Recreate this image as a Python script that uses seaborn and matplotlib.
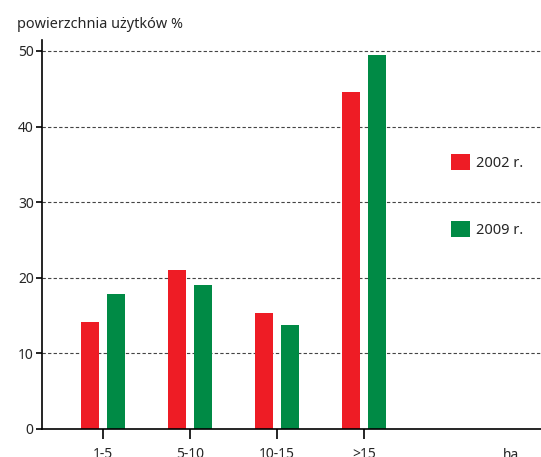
import pandas as pd
import seaborn as sns
import matplotlib.pyplot as plt
from matplotlib.patches import Patch

categories = ["1-5", "5-10", "10-15", ">15"]
years = ["2002 r.", "2009 r."]
values_2002 = [14.1, 21.0, 15.3, 44.6]
values_2009 = [17.8, 19.0, 13.7, 49.4]
yticks = [0, 10, 20, 30, 40, 50]
colors = ["#ee1c25", "#008a45"]

df = pd.DataFrame({
    "klasa": categories * 2,
    "rok": [years[0]] * 4 + [years[1]] * 4,
    "udzial": values_2002 + values_2009,
})

sns.set_theme(style="white")
plt.rcParams["font.family"] = ["Noto Sans", "DejaVu Sans"]

fig = plt.figure(figsize=(5.41, 4.57), dpi=100)
ax = fig.add_axes([42 / 541, 1 - 429 / 457, 1 - 42 / 541, (429 - 40) / 457])

sns.barplot(data=df, x="klasa", y="udzial", hue="rok", palette=colors,
            width=0.6, gap=0.3, saturation=1, linewidth=0, legend=False, ax=ax)

ax.set_ylim(0, 51.45)
ax.set_xlim(-0.70, 5.03)
ax.set_yticks(yticks)
ax.set_xlabel("")
ax.set_ylabel("")

for y in yticks[1:]:
    ax.axhline(y, color="#444444", lw=0.8, ls=(0, (3, 2)), zorder=0)

for s in ["top", "right"]:
    ax.spines[s].set_visible(False)
for s in ["left", "bottom"]:
    ax.spines[s].set_color("black")
    ax.spines[s].set_linewidth(1.2)

ax.tick_params(axis="x", direction="out", length=7, width=1.2, color="black",
               pad=6, labelsize=10, bottom=True)
ax.tick_params(axis="y", direction="out", length=4, width=1.2, color="black",
               pad=2, labelsize=10, left=True)

handles = [Patch(facecolor=c, edgecolor="none") for c in colors]
ax.legend(handles, years, loc="upper left", bbox_to_anchor=(0.807, 0.722),
          frameon=False, fontsize=10.5, handlelength=1.35, handleheight=1.35,
          handletextpad=0.4, labelspacing=3.4, borderaxespad=0)

fig.text(17 / 541, 1 - 28 / 457, "powierzchnia użytków %", fontsize=10.4,
         ha="left", va="baseline")
fig.text(503 / 541, 1 - 459 / 457, "ha", fontsize=10, ha="left", va="baseline")

fig.savefig("out.png", dpi=100)
